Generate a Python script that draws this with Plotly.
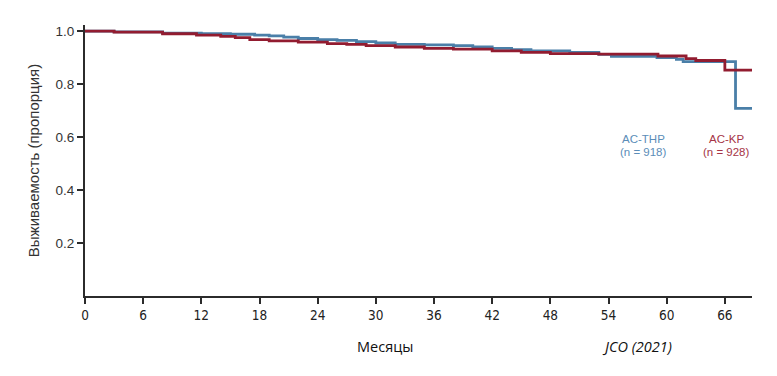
import plotly.graph_objects as go

# Kaplan-Meier step data (months, survival proportion)
thp_months = [0, 3, 8, 12, 15, 17.5, 19, 20.5, 22, 24, 26, 28, 30, 32, 35, 38, 40, 42, 44, 46, 50, 53, 54.3, 59, 61, 61.7, 67.1, 68.8]
thp_surv = [1.0, 0.997, 0.992, 0.990, 0.988, 0.985, 0.982, 0.977, 0.972, 0.968, 0.965, 0.960, 0.955, 0.950, 0.948, 0.945, 0.940, 0.935, 0.930, 0.925, 0.920, 0.912, 0.905, 0.900, 0.893, 0.885, 0.708, 0.708]

kp_months = [0, 3, 8, 11.5, 14, 15.5, 17, 19, 22, 25, 27, 29, 32, 35, 38, 42, 45, 48, 53, 59.1, 62, 63, 66.0, 68.8]
kp_surv = [1.0, 0.996, 0.990, 0.985, 0.980, 0.975, 0.968, 0.963, 0.958, 0.953, 0.950, 0.945, 0.940, 0.935, 0.932, 0.925, 0.920, 0.915, 0.913, 0.906, 0.896, 0.889, 0.853, 0.853]

x_ticks = [0, 6, 12, 18, 24, 30, 36, 42, 48, 54, 60, 66]
y_ticks = [0.2, 0.4, 0.6, 0.8, 1.0]
y_tick_labels = ["0.2", "0.4", "0.6", "0.8", "1.0"]

BLUE = "#4a7fa8"
RED = "#921c30"

fig = go.Figure()
fig.add_trace(go.Scatter(x=thp_months, y=thp_surv, mode="lines",
                         line=dict(color=BLUE, width=2.8, shape="hv"), name="AC-THP"))
fig.add_trace(go.Scatter(x=kp_months, y=kp_surv, mode="lines",
                         line=dict(color=RED, width=2.8, shape="hv"), name="AC-KP"))

axis_color = "#2b2b2b"
fig.update_layout(
    width=777, height=376,
    margin=dict(l=85, r=25, t=25, b=80),
    paper_bgcolor="white", plot_bgcolor="white",
    showlegend=False,
    font=dict(family="Liberation Sans, Arial, sans-serif", color="#333333"),
    xaxis=dict(range=[0, 68.8], tickvals=x_ticks, ticktext=[str(v) for v in x_ticks],
               showline=True, linecolor=axis_color, linewidth=2,
               ticks="outside", ticklen=6, tickwidth=1.5, tickcolor=axis_color,
               showgrid=False, zeroline=False,
               tickfont=dict(family="DejaVu Sans Condensed, Liberation Sans Narrow, sans-serif", size=13.5, color="#222222")),
    yaxis=dict(range=[0, 1.023], tickvals=y_ticks, ticktext=y_tick_labels,
               showline=True, linecolor=axis_color, linewidth=2,
               ticks="outside", ticklen=6, tickwidth=1.5, tickcolor=axis_color,
               showgrid=False, zeroline=False,
               tickfont=dict(size=13.5, color="#333333"),
               title=dict(text="Выживаемость (пропорция)", font=dict(size=15, color="#333333"), standoff=12)),
)

annots = [
    (643, 139, "AC-THP", "#5b8db8"),
    (643, 152, "(n = 918)", "#5b8db8"),
    (726, 139, "AC-KP", "#a63446"),
    (726, 152, "(n = 928)", "#a63446"),
]
for px, py, txt, col in annots:
    fig.add_annotation(x=(px - 85) / 667, y=1 - (py - 25) / 271, xref="paper", yref="paper",
                       text=txt, showarrow=False, xanchor="center", yanchor="middle",
                       font=dict(size=11.5, color=col))

fig.add_annotation(x=(385 - 85) / 667, y=-(347 - 296) / 271, xref="paper", yref="paper",
                   text="Месяцы", showarrow=False, xanchor="center", yanchor="middle",
                   font=dict(family="Open Sans, sans-serif", size=14.5, color="#111111"))
fig.add_annotation(x=(637 - 85) / 667, y=-(347 - 296) / 271, xref="paper", yref="paper",
                   text="<i>JCO (2021)</i>", showarrow=False, xanchor="center", yanchor="middle",
                   font=dict(family="Open Sans, sans-serif", size=14.5, color="#111111"))

fig.write_html("out.html")
